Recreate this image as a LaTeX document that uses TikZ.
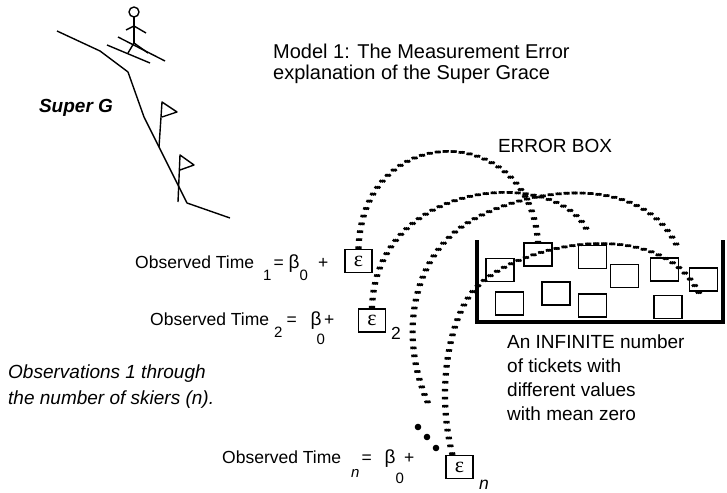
\documentclass[tikz,border=0pt]{standalone}
\usepackage{fontspec}
\setmainfont{Liberation Sans}
\newfontfamily\serifgreek{Liberation Serif}
\usepackage{tikz}
\usetikzlibrary{positioning}

\newcommand{\lowsub}[2]{\raisebox{-#1}{\fontsize{15}{15}\selectfont #2}}
\newcommand{\bbeta}{{\fontsize{19}{19}\selectfont β}}

\begin{document}
\begin{tikzpicture}[x=1pt, y=-1pt,
  pen/.style={line width=1.4pt, line join=round},
  txt/.style={inner sep=0pt, font=\fontsize{19}{24}\selectfont},
  obs/.style={inner sep=0pt, anchor=base west, font=\fontsize{17.5}{17}\selectfont},
  epsbox/.style={draw, line width=1.3pt, minimum width=27pt, minimum height=23pt,
    inner sep=0pt, font=\serifgreek\fontsize{22}{22}\selectfont},
  ticket/.style={draw, line width=1.3pt, minimum width=28pt, minimum height=23pt, inner sep=0pt},
  % broad flat nib: three dashed strokes side by side
  nib/.style={line width=2.6pt, dash pattern=on 2.5pt off 5.5pt},
  pick/.style={nib,
    preaction={draw, nib, transform canvas={xshift=-1.8pt}},
    postaction={draw, nib, transform canvas={xshift=1.8pt}}}]

  \fill[white] (0,0) rectangle (727,492);
  \useasboundingbox (0,0) rectangle (727,492);

  % Slope, skier and gates
  \draw[pen] (57,31) -- (100,51) -- (128,72) -- (144,117) -- (187,203) -- (230,218);
  \draw[pen] (134,12) circle[radius=5];
  \draw[pen] (134,17) -- (134,43);
  \draw[pen] (126,30) -- (134,26) -- (146,33);
  \draw[pen] (128,53) -- (134,43) -- (148,53);
  \draw[pen] (107,45) -- (150,63);
  \draw[pen] (118,37) -- (165,61);
  \draw[pen] (159,147) -- (162,102) -- (177,112) -- (162,117);
  \draw[pen] (178,202) -- (180,155) -- (194,165) -- (180,170);
  \node[txt, anchor=base] (superg) at (76,112) {\bfseries\itshape Super G};

  % Headings
  \node[txt, anchor=north west, align=left, font=\fontsize{20}{21}\selectfont]
    (title) at (273,44) {Model 1: The Measurement Error\\explanation of the Super Grace};
  \node[txt, anchor=base] (boxname) at (555,152) {ERROR BOX};

  % Observed times
  \node[obs] (obs1) at (135,268) {Observed Time\hspace{9pt}\lowsub{12pt}{1}\hspace{2pt}=\hspace{5pt}\bbeta\lowsub{12pt}{0}\hspace{10pt}+};
  \node[obs] (obs2) at (150,325) {Observed Time\hspace{5pt}\lowsub{12pt}{2}\hspace{4pt}=\hspace{14pt}\bbeta\hspace{-5pt}\lowsub{19pt}{0}\hspace{-1pt}+};
  \node[obs] (obsn) at (222,463) {Observed Time\hspace{10pt}\lowsub{14pt}{\itshape n}\hspace{2pt}=\hspace{13pt}\bbeta\lowsub{20pt}{0}+};
  \node[epsbox] (e1) at (358.5,261) {ε};
  \node[epsbox] (e2) at (372,320.5) {ε};
  \node[epsbox] (en) at (459.5,467) {ε};
  \node[obs, anchor=base] (sub2) at (396,339) {2};
  \node[obs, anchor=base] (subn) at (484,489) {\itshape n};
  \foreach \x/\y in {418/427, 427/437, 436/448}
    \fill (\x,\y) circle[radius=3.3];

  \node[txt, anchor=north west, align=left, font=\itshape\fontsize{19}{26}\selectfont]
    (range) at (8,365) {Observations 1 through\\the number of skiers (n).};

  % Error box and its tickets
  \draw[line width=3.5pt] (477,240) -- (477,322) -- (723,322) -- (723,240);
  \foreach \n/\cx/\cy in {1/500/270, 2/538/254.5, 3/592.5/257, 4/624.5/276,
      5/664.5/269.5, 6/703.5/279.5, 7/509.5/303.5, 8/556/293.5,
      9/592.5/305.5, 10/668/307}
    \node[ticket] (t\n) at (\cx,\cy) {};
  \node[txt, anchor=north west, align=left] (tickets) at (507,335)
    {An INFINITE number\\of tickets with\\different values\\with mean zero};

  % Draws from the box
  \coordinate (end2) at (587,230);
  \coordinate (start3) at (428,403);
  \coordinate (end3) at (678,248);
  \coordinate (end4) at (700,295);
  \draw[pick] (e1.north) .. controls (362,120) and (530,120) .. (t2.north);
  \draw[pick] (e2.north) .. controls (375,180) and (555,165) .. (end2);
  \draw[pick] (start3) .. controls (400,340) and (410,265) .. (460,228)
    .. controls (510,191) and (640,165) .. (end3);
  \draw[pick] ([xshift=-7pt]en.north) .. controls (438,400) and (445,331) .. (470,295)
    .. controls (505,245) and (660,210) .. (end4);
\end{tikzpicture}
\end{document}
